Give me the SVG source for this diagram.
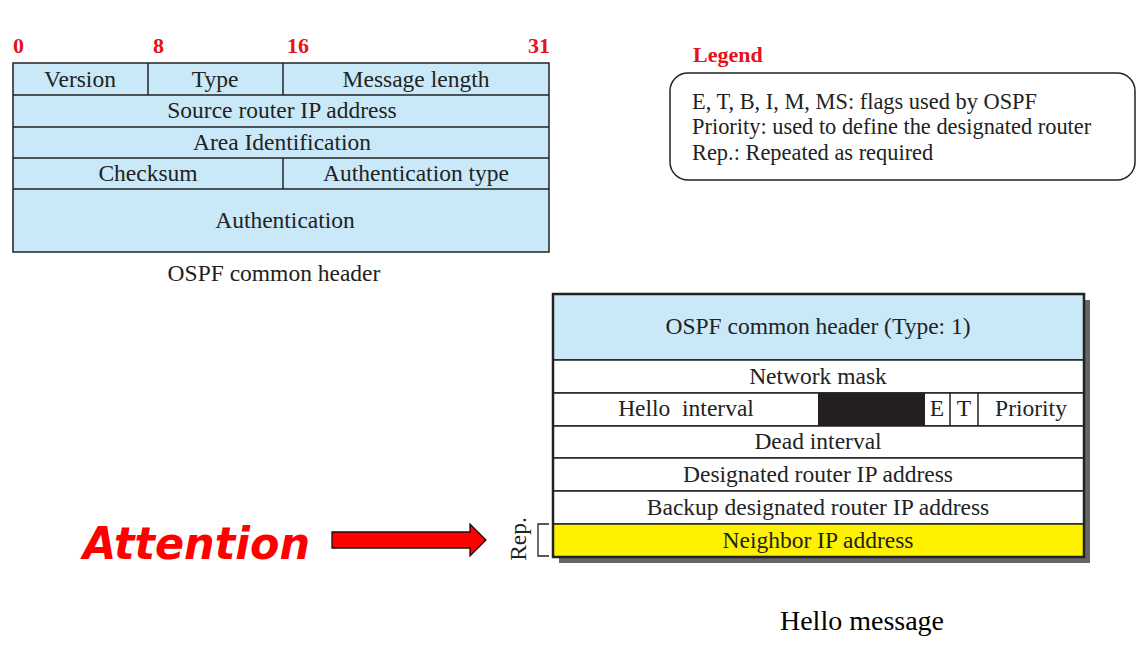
<svg xmlns="http://www.w3.org/2000/svg" width="1144" height="654" viewBox="0 0 1144 654">
<style>
.t{font-family:"Liberation Serif","Times New Roman",serif;font-size:23.5px;fill:#222;text-anchor:middle}
.num{font-family:"Liberation Serif",serif;font-size:22px;font-weight:bold;fill:#e8111a}
.blue{fill:#c9e9f9;stroke:#222;stroke-width:1.5}
.white{fill:#fff;stroke:#222;stroke-width:1.5}
.lg{font-family:"Liberation Serif",serif;font-size:22.4px;fill:#222}
</style>
<rect width="1144" height="654" fill="#fff"/>
<g id="bit-numbers">
<text class="num" x="13" y="53">0</text>
<text class="num" x="153" y="53">8</text>
<text class="num" x="287" y="53">16</text>
<text class="num" x="550" y="53" text-anchor="end">31</text>
</g>
<g id="common-header">
<rect class="blue" x="13" y="63" width="536" height="189"/>
<line class="blue" x1="13" y1="95" x2="549" y2="95"/>
<line class="blue" x1="13" y1="127" x2="549" y2="127"/>
<line class="blue" x1="13" y1="158" x2="549" y2="158"/>
<line class="blue" x1="13" y1="189" x2="549" y2="189"/>
<line class="blue" x1="148" y1="63" x2="148" y2="95"/>
<line class="blue" x1="283" y1="63" x2="283" y2="95"/>
<line class="blue" x1="283" y1="158" x2="283" y2="189"/>
<text class="t" x="80" y="87">Version</text>
<text class="t" x="215" y="87">Type</text>
<text class="t" x="416" y="87">Message length</text>
<text class="t" x="282" y="118">Source router IP address</text>
<text class="t" x="282" y="150">Area Identification</text>
<text class="t" x="148" y="181">Checksum</text>
<text class="t" x="416" y="181">Authentication type</text>
<text class="t" x="285" y="228">Authentication</text>
<text class="t" x="274" y="281">OSPF common header</text>
</g>
<g id="legend">
<text x="693" y="62" font-family="Liberation Serif,serif" font-size="22" font-weight="bold" fill="#e8111a">Legend</text>
<rect x="670" y="73" width="465" height="107" rx="18" fill="#fff" stroke="#222" stroke-width="1.5"/>
<text class="lg" x="692" y="109">E, T, B, I, M, MS: flags used by OSPF</text>
<text class="lg" x="692" y="134">Priority: used to define the designated router</text>
<text class="lg" x="692" y="160">Rep.: Repeated as required</text>
</g>
<g id="hello-message">
<rect x="559" y="300" width="531" height="263" fill="#666"/>
<rect class="blue" x="553" y="294" width="531" height="66"/>
<rect class="white" x="553" y="360" width="531" height="33"/>
<rect class="white" x="553" y="393" width="531" height="33"/>
<rect x="818" y="393" width="107" height="33" fill="#231f20"/>
<line class="white" x1="950" y1="393" x2="950" y2="426"/>
<line class="white" x1="978" y1="393" x2="978" y2="426"/>
<rect class="white" x="553" y="426" width="531" height="32"/>
<rect class="white" x="553" y="458" width="531" height="33"/>
<rect class="white" x="553" y="491" width="531" height="33"/>
<rect x="553" y="524" width="531" height="33" fill="#fff200" stroke="#222" stroke-width="1.5"/>
<rect x="553" y="294" width="531" height="263" fill="none" stroke="#222" stroke-width="2.5"/>
<text class="t" x="818" y="334">OSPF common header (Type: 1)</text>
<text class="t" x="818" y="384">Network mask</text>
<text class="t" x="686" y="416" xml:space="preserve" style="white-space:pre">Hello  interval</text>
<text class="t" x="937" y="416">E</text>
<text class="t" x="964" y="416">T</text>
<text class="t" x="1031" y="416">Priority</text>
<text class="t" x="818" y="449">Dead interval</text>
<text class="t" x="818" y="482">Designated router IP address</text>
<text class="t" x="818" y="515">Backup designated router IP address</text>
<text class="t" x="818" y="548">Neighbor IP address</text>
<text class="t" x="862" y="630" style="font-size:28px;fill:#000">Hello message</text>
</g>
<g id="rep">
<path d="M549 524 H538 V556 H549" fill="none" stroke="#222" stroke-width="1.3"/>
<text class="t" transform="translate(526 539) rotate(-90)">Rep.</text>
</g>
<g id="attention">
<text x="83" y="559" font-family="DejaVu Sans,Verdana,sans-serif" font-size="44" font-weight="bold" font-style="italic" fill="#ff0000" textLength="227" lengthAdjust="spacingAndGlyphs">Attention</text>
</g>
<g id="connectors">
<path d="M332 532 H470 V524 L486 540 L470 556 V548 H332 Z" fill="#ff0000" stroke="#111" stroke-width="1.3"/>
</g>
</svg>
